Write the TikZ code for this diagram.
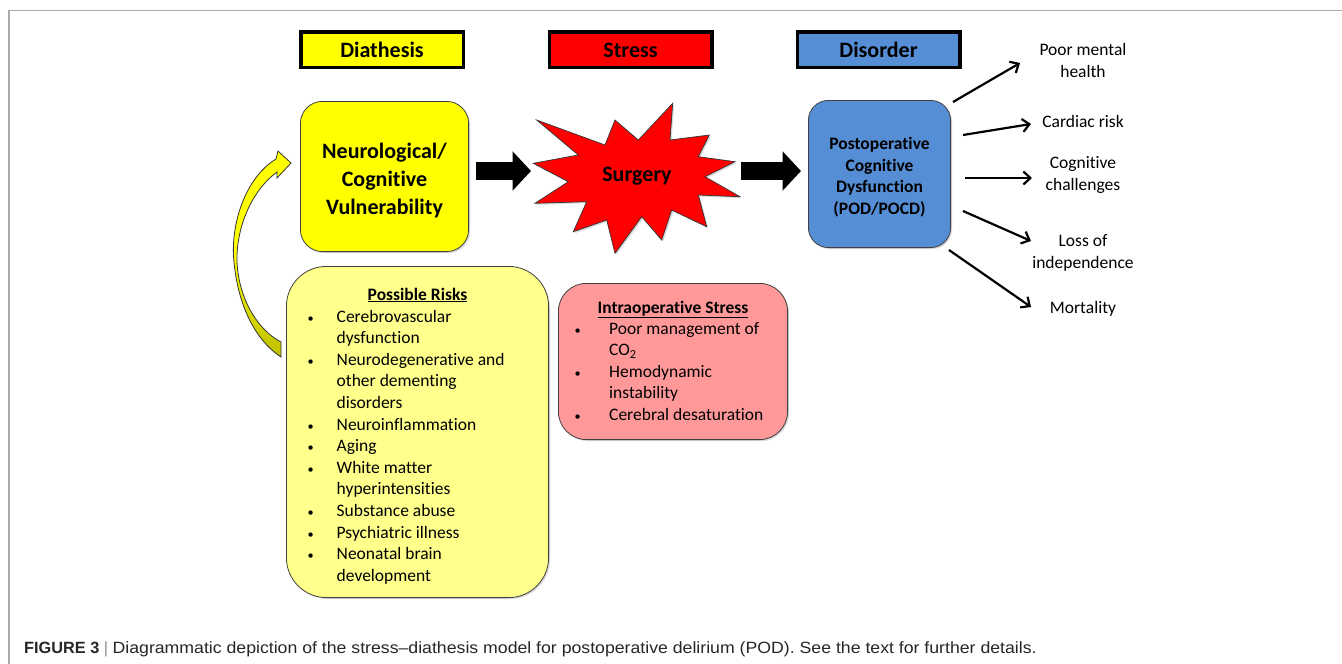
\documentclass[tikz,border=0pt]{standalone}
\usepackage{fontspec}
\setmainfont{Carlito}[Ligatures=NoCommon]
\newfontfamily\capfont{Liberation Sans}
\usetikzlibrary{positioning,shadows,calc,arrows.meta}

\definecolor{diayellow}{RGB}{255,255,0}
\definecolor{stressred}{RGB}{255,0,0}
\definecolor{disblue}{RGB}{85,142,213}
\definecolor{riskyellow}{RGB}{255,255,140}
\definecolor{riskpink}{RGB}{255,153,153}
\definecolor{framegray}{RGB}{170,170,170}
\definecolor{olive}{RGB}{190,190,0}

\newcommand{\bul}{\scalebox{0.7}{\textbullet}}

\begin{document}
\begin{tikzpicture}[
	x=1pt,y=-1pt,
	softshadow/.style={drop shadow={shadow xshift=1.5pt,shadow yshift=-1.5pt,opacity=0.3}},
	headnode/.style={draw,line width=3.5pt,minimum width=162.5pt,minimum height=35.5pt,inner sep=0pt,
		text height=16pt,text depth=0pt,font=\fontsize{22}{26}\selectfont\bfseries,softshadow},
	roundnode/.style={draw=black!75,line width=0.8pt,align=center,inner sep=0pt,softshadow},
	listnode/.style={anchor=base west,inner sep=0pt,font=\fontsize{17.5}{21.6}\selectfont},
	outnode/.style={align=center,inner sep=0pt,font=\fontsize{17.5}{22}\selectfont},
	outarrow/.style={line width=2.2pt,-{Straight Barb[length=7pt,width=13pt]}},
	blockarrow/.style={line width=18.4pt,-{Triangle[length=18.5pt,width=38.5pt]}}
	]
	\useasboundingbox (0,0) rectangle (1342,664);
	% frame
	\draw[framegray,line width=1.5pt] (1342,10.5) -- (9,10.5) -- (9,664);
	
	% column heads
	\node[headnode,fill=diayellow] (diathesis) at (382,49.5) {Diathesis};
	\node[headnode,fill=stressred] (stress) at (630.5,49.5) {Stress};
	\node[headnode,fill=disblue] (disorder) at (878.5,49.5) {Disorder};
	
	% main row
	\node[roundnode,fill=diayellow,rounded corners=22pt,minimum width=168.2pt,minimum height=150.2pt,
		font=\fontsize{22}{28}\selectfont\bfseries] (neuro) at (384.5,176.5) {\rule{0pt}{22.5pt}Neurological/\\Cognitive\\Vulnerability};
	\path[fill=stressred,draw=black!80,line width=0.7pt,softshadow]
		(672.7,103.3) -- (670,140) -- (709.3,135) -- (698.3,156.7) -- (735,161.7) -- (705,176.7)
		-- (740,196.7) -- (698.3,195) -- (706.7,226.7) -- (671.7,210) -- (661.7,240) -- (641.7,216.7)
		-- (615,253.3) -- (606.7,220) -- (573.3,231.7) -- (586.7,201.7) -- (535,203.3) -- (568.3,181.7)
		-- (533.3,163.3) -- (578.3,155) -- (536.7,120) -- (605,145) -- (615,120) -- (638.3,140) -- cycle;
	\node[inner sep=0pt,minimum width=208.4pt,minimum height=150pt,font=\fontsize{22}{26}\selectfont\bfseries]
		(surgery) at (637,176.5) {Surgery};
	\node[roundnode,fill=disblue,rounded corners=20pt,minimum width=142.2pt,minimum height=147.2pt,
		font=\fontsize{17.5}{21.7}\selectfont\bfseries] (postop) at (879.5,174) {\rule{0pt}{18.5pt}Postoperative\\Cognitive\\Dysfunction\\(POD/POCD)};
	\coordinate (axis) at (0,171);
	\draw[blockarrow,shorten <=7pt,shorten >=1.6pt] (neuro.east |- axis) -- (surgery.west |- axis);
	\draw[blockarrow,shorten >=7pt] (surgery.east |- axis) -- (postop.west |- axis);
	
	% outcomes
	\node[outnode] (mental) at (1083,60) {Poor mental\\health};
	\node[outnode] (cardiac) at (1083,121) {Cardiac risk};
	\node[outnode] (cognitive) at (1083,175) {Cognitive\\challenges};
	\node[outnode] (loss) at (1083,252.5) {Loss of\\independence};
	\node[outnode] (mortality) at (1083,309) {Mortality};
	\path[outarrow]
	($(postop.north east)+(2,2)$) edge ($(mental)+(-63,3)$)
	($(postop.east)+(12,-39)$) edge ($(cardiac)+(-52,3)$)
	($(postop.east)+(14,4)$) edge ($(cognitive)+(-51,3)$)
	($(postop.east)+(12,37)$) edge ($(loss)+(-52,-11.5)$)
	($(postop.south east)+(-2,2)$) edge ($(mortality)+(-52,-2)$);
	
	% risk boxes
	\node[roundnode,fill=riskyellow,rounded corners=40pt,minimum width=262.2pt,minimum height=331.2pt] (risks) at (417.5,432) {};
	\node[anchor=base,inner sep=0pt,font=\fontsize{17.5}{21.6}\selectfont\bfseries] (risktitle) at (risks.center |- 0,300) {\underline{Possible Risks}};
	\node[listnode] (risklist) at (307.5,322)
	{
		\begin{tabular}[t]{@{}p{29pt}@{}l@{}}
			\bul & Cerebrovascular \\
			& dysfunction \\
			\bul & Neurodegenerative and \\
			& other dementing \\
			& disorders \\
			\bul & Neuroinflammation \\
			\bul & Aging \\
			\bul & White matter \\
			& hyperintensities \\
			\bul & Substance abuse \\
			\bul & Psychiatric illness \\
			\bul & Neonatal brain \\
			& development
		\end{tabular}
	};
	\node[roundnode,fill=riskpink,rounded corners=28pt,minimum width=229.2pt,minimum height=156.2pt] (intraop) at (673,361.5) {};
	\node[anchor=base,inner sep=0pt,font=\fontsize{17.5}{21.5}\selectfont\bfseries] (intratitle) at (intraop.center |- 0,313) {\underline{Intraoperative Stress}};
	\node[listnode,font=\fontsize{17.5}{21.5}\selectfont] (intralist) at (574.5,334)
	{
		\begin{tabular}[t]{@{}p{34.5pt}@{}l@{}}
			\bul & Poor management of \\
			& CO\textsubscript{2} \\
			\bul & Hemodynamic \\
			& instability \\
			\bul & Cerebral desaturation
		\end{tabular}
	};
	
	% feedback arrow
	\path[draw=black!80,line width=0.8pt,top color=diayellow,bottom color=olive,middle color=diayellow]
		(291,163) -- (278,151) -- (276,159) .. controls (245,178) and (230,225) .. (234,262)
		.. controls (238,305) and (255,340) .. (281,357) -- (281,342)
		.. controls (258,330) and (239,300) .. (237,262)
		.. controls (236,230) and (250,192) .. (277,172) -- (277,178) -- cycle;
	
	% caption
	\node[anchor=base west,inner sep=0pt,text=black!85,font=\capfont\fontsize{16.3}{19}\selectfont] (caption) at (24,653.5)
	{\textbf{FIGURE 3} {\color{black!45}|} \scalebox{1.085}[1]{Diagrammatic depiction of the stress–diathesis model for postoperative delirium (POD). See the text for further details.}};
\end{tikzpicture}
\end{document}
